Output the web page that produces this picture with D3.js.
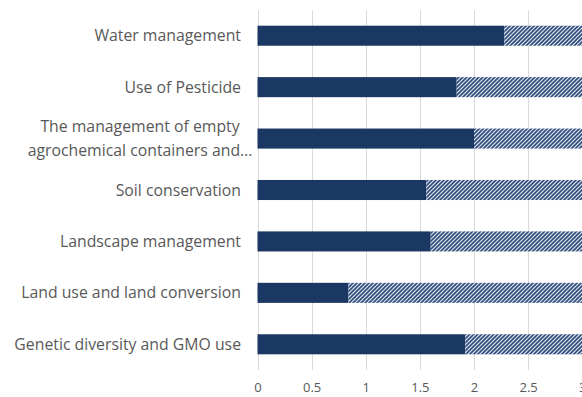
<!DOCTYPE html>
<html>
<head>
<meta charset="utf-8">
<script src="https://cdn.jsdelivr.net/npm/d3@7"></script>
<style>
  html, body { margin: 0; padding: 0; background: #fff; }
  svg { display: block; }
  text { font-family: "Open Sans", "Noto Sans", sans-serif; fill: #595959; }
</style>
</head>
<body>
<svg id="chart" width="582" height="397"></svg>
<script>
// Practice areas, top to bottom
const categories = [
  ["Water management"],
  ["Use of Pesticide"],
  ["The management of empty", "agrochemical containers and\u2026"],
  ["Soil conservation"],
  ["Landscape management"],
  ["Land use and land conversion"],
  ["Genetic diversity and GMO use"]
];
// Mean score (solid segment)
const scores = [2.28, 1.84, 2.0, 1.56, 1.6, 0.84, 1.92];
// Remaining gap to the maximum score (hatched segment)
const maxScore = 5;
const gaps = scores.map(v => maxScore - v);
const xTicks = [0, 0.5, 1, 1.5, 2, 2.5, 3];

const svg = d3.select("#chart");
const navy = "#1b3763";
const labelSize = 15.8;

// Diagonal hatch fill
const defs = svg.append("defs");
const pat = defs.append("pattern")
  .attr("id", "hatch")
  .attr("patternUnits", "userSpaceOnUse")
  .attr("width", 4).attr("height", 4);
pat.append("rect").attr("width", 4).attr("height", 4).attr("fill", "#dfe5ee");
pat.append("path")
  .attr("d", "M-1,1 L1,-1 M0,4 L4,0 M3,5 L5,3")
  .attr("stroke", "#2f4d7c").attr("stroke-width", 1.6);

const x = d3.scaleLinear().domain([0, 3]).range([257.5, 582.3]);
const y = d3.scaleBand()
  .domain(d3.range(categories.length))
  .range([10, 370])
  .paddingInner(0.61)
  .paddingOuter(0.305);

// Vertical gridlines
svg.append("g")
  .selectAll("line")
  .data(xTicks)
  .join("line")
  .attr("x1", d => Math.round(x(d)) + 0.5)
  .attr("x2", d => Math.round(x(d)) + 0.5)
  .attr("y1", 10).attr("y2", 370)
  .attr("stroke", "#d9d9d9").attr("stroke-width", 1);

// Solid segments
svg.append("g")
  .selectAll("rect")
  .data(scores)
  .join("rect")
  .attr("x", x(0))
  .attr("y", (d, i) => y(i))
  .attr("width", d => x(d) - x(0))
  .attr("height", y.bandwidth())
  .attr("fill", navy);

// Hatched segments stacked after the solid ones
svg.append("g")
  .selectAll("rect")
  .data(gaps)
  .join("rect")
  .attr("x", (d, i) => x(scores[i]))
  .attr("y", (d, i) => y(i))
  .attr("width", d => x(d) - x(0))
  .attr("height", y.bandwidth())
  .attr("fill", "url(#hatch)");

// X axis tick labels
const xAxis = d3.axisBottom(x).tickValues(xTicks).tickSize(0).tickPadding(0)
  .tickFormat(d3.format("~g"));
const gx = svg.append("g").attr("transform", "translate(0,382.5)").call(xAxis);
gx.select(".domain").remove();
gx.selectAll("text")
  .attr("font-size", 13)
  .attr("font-family", null)
  .attr("fill", "#595959");

// Category labels
const labels = svg.append("g");
categories.forEach((lines, i) => {
  const cy = y(i) + y.bandwidth() / 2;
  if (lines.length === 1) {
    labels.append("text")
      .attr("x", 241).attr("y", cy)
      .attr("dy", "0.35em")
      .attr("text-anchor", "end")
      .attr("font-size", labelSize)
      .text(lines[0]);
  } else {
    lines.forEach((t, j) => {
      labels.append("text")
        .attr("x", 140)
        .attr("y", cy + (j - (lines.length - 1) / 2) * 24)
        .attr("dy", "0.35em")
        .attr("text-anchor", "middle")
        .attr("font-size", labelSize)
        .text(t);
    });
  }
});
</script>
</body>
</html>
